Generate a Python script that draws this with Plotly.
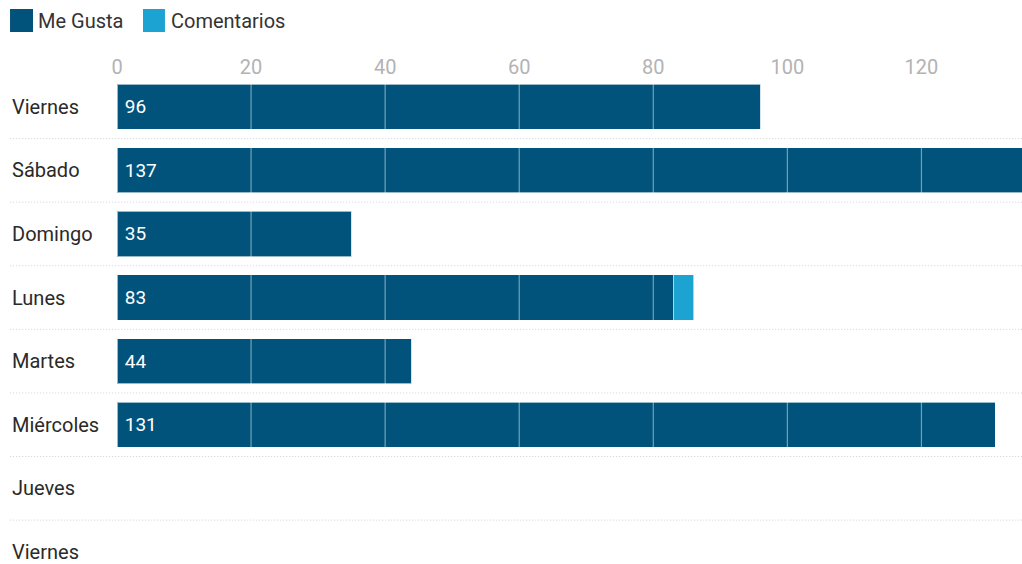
import plotly.graph_objects as go

categories = ["Viernes", "Sábado", "Domingo", "Lunes", "Martes", "Miércoles", "Jueves", "Viernes"]
me_gusta = [96, 137, 35, 83, 44, 131, 0, 0]
comentarios = [0, 0, 0, 3, 0, 0, 0, 0]
x_ticks = [0, 20, 40, 60, 80, 100, 120]
series_names = ["Me Gusta", "Comentarios"]

DARK = "#02537b"
LIGHT = "#1ca3d2"
FONT = "Roboto"

ypos = list(range(len(categories)))

fig = go.Figure()
fig.add_trace(go.Bar(
    y=ypos, x=me_gusta, orientation="h", name=series_names[0],
    marker=dict(color=DARK, line=dict(color="rgba(255,255,255,0.6)", width=1)),
    text=["\u00a0" + str(v) if v > 0 else "" for v in me_gusta],
    textposition="inside", insidetextanchor="start",
    textfont=dict(color="white", size=19, family=FONT),
    width=0.71, showlegend=False, hoverinfo="skip",
))
fig.add_trace(go.Bar(
    y=ypos, x=comentarios, orientation="h", name=series_names[1],
    marker=dict(color=LIGHT, line=dict(color="rgba(255,255,255,0.6)", width=1)),
    width=0.71, textposition="none", showlegend=False, hoverinfo="skip",
))

shapes = []
for t in x_ticks[1:]:
    shapes.append(dict(type="line", xref="x", yref="paper", x0=t, x1=t, y0=0, y1=1,
                       line=dict(color="rgba(255,255,255,0.45)", width=1.2), layer="above"))
for i in range(len(categories) - 1):
    shapes.append(dict(type="line", xref="paper", yref="y", x0=-0.118, x1=1, y0=i + 0.5, y1=i + 0.5,
                       line=dict(color="#cfcfcf", width=1, dash="1px,2px"), layer="below"))

# custom legend
legend_boxes = [(-0.1182, -0.0928, -0.0895), (0.0287, 0.0530, 0.0575)]
for (bx0, bx1, tx), name, col in zip(legend_boxes, series_names, [DARK, LIGHT]):
    shapes.append(dict(type="rect", xref="paper", yref="paper", x0=bx0, x1=bx1, y0=1.0879, y1=1.1350,
                       fillcolor=col, line=dict(width=0)))

annotations = []
for (bx0, bx1, tx), name in zip(legend_boxes, series_names):
    annotations.append(dict(x=tx, xref="paper", y=1.1104, yref="paper", text=name, showarrow=False,
                            xanchor="left", yanchor="middle",
                            font=dict(family=FONT, size=20, color="#333333")))
for i, c in enumerate(categories):
    annotations.append(dict(x=-0.1185, xref="paper", y=i, yref="y", text=c, showarrow=False,
                            xanchor="left", yanchor="middle",
                            font=dict(family=FONT, size=20, color="#2a2a2a")))

fig.update_layout(
    width=1022, height=564,
    margin=dict(l=117, r=0, t=75, b=0),
    paper_bgcolor="white", plot_bgcolor="white",
    barmode="stack",
    font=dict(family=FONT),
    showlegend=False,
    hovermode=False,
    shapes=shapes, annotations=annotations,
    xaxis=dict(side="top", range=[0, 135], tickvals=x_ticks, showgrid=False, zeroline=False,
               showline=False, ticks="", tickfont=dict(family=FONT, size=20, color="#b3b3b3"),
               ticklabelstandoff=-4, fixedrange=True),
    yaxis=dict(range=[7.19, -0.5], showticklabels=False, showgrid=False, zeroline=False,
               showline=False, ticks="", fixedrange=True),
)

fig.write_html("out.html", config={"displayModeBar": False, "staticPlot": True},
               post_script="document.body.style.margin='0';document.body.style.overflow='hidden';")
